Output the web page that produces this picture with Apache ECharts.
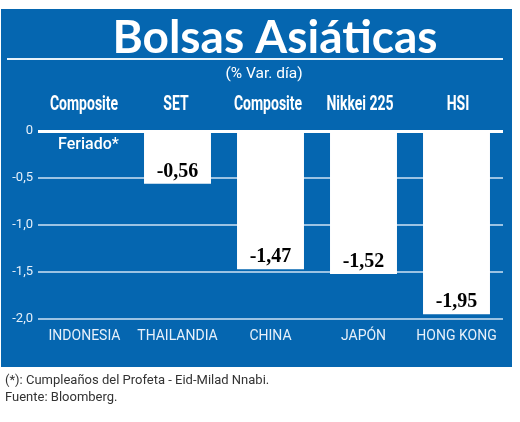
<!DOCTYPE html>
<html><head><meta charset="utf-8">
<script src="https://cdn.jsdelivr.net/npm/echarts@6/dist/echarts.min.js"></script>
<style>html,body{margin:0;padding:0;background:#fff}#c{width:520px;height:422px}</style>
</head><body><div id="c"></div>
<script>
const countries = ['INDONESIA','THAILANDIA','CHINA','JAPÓN','HONG KONG'];
const indices = ['Composite','SET','Composite','Nikkei 225','HSI'];
const values = [null,-0.56,-1.47,-1.52,-1.95];
const yTicks = [0,-0.5,-1.0,-1.5,-2.0];
const holidayNote = 'Feriado*';
const title = 'Bolsas Asiáticas';
const subtitle = '(% Var. día)';
const footnotes = ['(*): Cumpleaños del Profeta - Eid-Milad Nnabi.','Fuente: Bloomberg.'];

const BLUE = '#0566b0';
const SANS = 'Roboto, "Liberation Sans", sans-serif';
const indexX = [84,176,268,360,458];

const chart = echarts.init(document.getElementById('c'));
const data = values.map(v => {
  if (v === null) {
    return {value: 0, itemStyle:{color:'rgba(0,0,0,0)'},
      label:{show:true, position:'bottom', distance:6, offset:[4,0], formatter: holidayNote, color:'#fff',
        fontFamily: SANS, fontWeight:500, fontSize:16}};
  }
  return {value: v};
});
chart.setOption({
  backgroundColor:'#fff',
  animation:false,
  graphic:[
    {type:'rect', z:-10, shape:{x:1,y:9,width:511,height:358}, style:{fill:BLUE}},
    {type:'line', shape:{x1:7,y1:59,x2:503,y2:59}, style:{stroke:'#e8f2fa', lineWidth:2}},
    {type:'text', x:275, y:38, style:{text:title, fill:'#fff', font:'bold 46px Lato, "Noto Sans", sans-serif', align:'center', verticalAlign:'middle'}},
    {type:'text', x:264, y:74, style:{text:subtitle, fill:'#fff', font:'15.5px '+SANS, align:'center', verticalAlign:'middle'}},
    ...indices.map((t,i)=>({type:'text', x:indexX[i], y:105, scaleX:0.7,
      style:{text:t, fill:'#fff', font:'bold 20px '+SANS, align:'center', verticalAlign:'middle'}})),
    {type:'text', x:5, y:381, style:{text:footnotes[0], fill:'#333', font:'13px '+SANS, verticalAlign:'middle'}},
    {type:'text', x:5, y:398, style:{text:footnotes[1], fill:'#333', font:'13px '+SANS, verticalAlign:'middle'}}
  ],
  grid:{left:38, right:17, top:131, bottom:103},
  xAxis:{type:'category', data:countries,
    axisLine:{show:false}, axisTick:{show:false},
    axisLabel:{color:'#e6f0fa', fontSize:14, fontFamily:SANS, margin:10, interval:0}},
  yAxis:{type:'value', min:-2, max:0, interval:0.5,
    axisLine:{show:false}, axisTick:{show:false},
    axisLabel:{color:'#e6f0fa', fontSize:13, fontFamily:SANS, margin:5,
      formatter: v => v === 0 ? '0' : v.toFixed(1).replace('.', ',')},
    splitLine:{lineStyle:{color:'#cfe3f4', width:1.5}}},
  series:[
    {type:'bar', data:data, barWidth:'72%', itemStyle:{color:'#fff'},
     label:{show:true, position:'insideBottom', distance:2, color:'#000',
       fontFamily:'"Liberation Serif","DejaVu Serif",serif', fontWeight:'bold', fontSize:20,
       formatter: p => p.value.toFixed(2).replace('.', ',')},
     markLine:{silent:true, symbol:'none', label:{show:false},
       lineStyle:{color:'#fff', type:'solid', width:3}, data:[{yAxis:0}]}}
  ]
});
</script></body></html>
